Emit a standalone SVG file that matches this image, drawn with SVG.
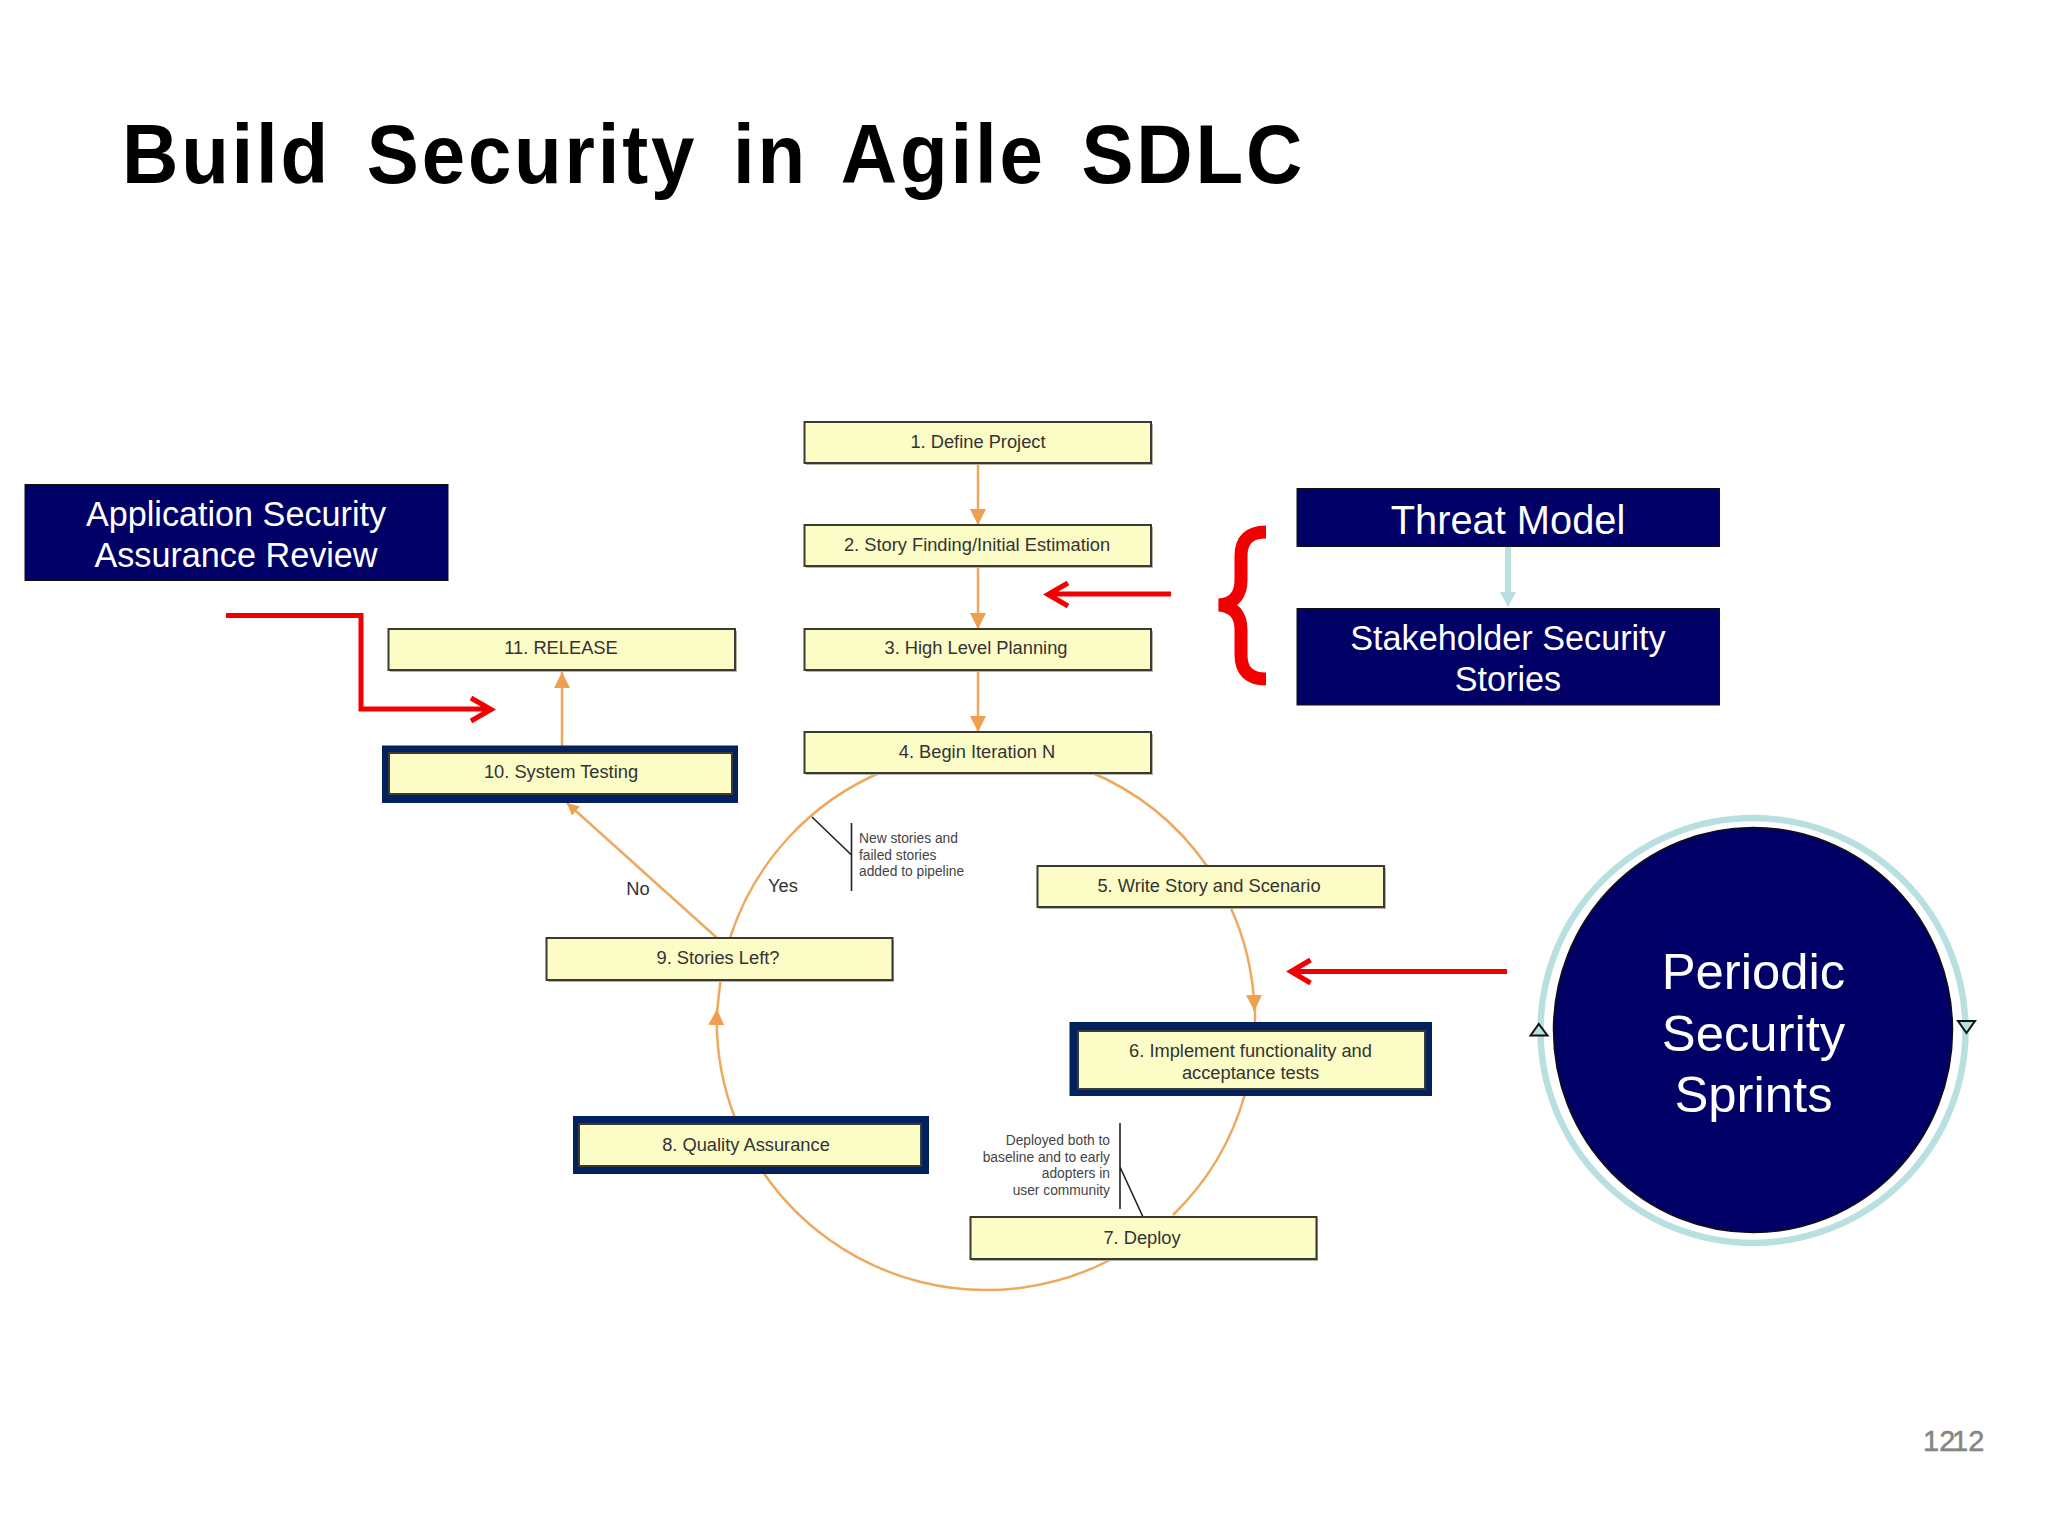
<svg xmlns="http://www.w3.org/2000/svg" width="2048" height="1536" viewBox="0 0 2048 1536">
<style>
text{font-family:"Liberation Sans",Arial,sans-serif}
.box{fill:#fcfcc6;stroke:#3a3a30;stroke-width:2}
.sh{fill:#b5b5a5}
.hl{fill:#04215f}
.t{font-size:18.3px;fill:#333;text-anchor:middle}
.n{font-size:13.8px;fill:#444}
.nr{font-size:13.8px;fill:#444;text-anchor:end}
.navy{fill:#000066;stroke:#111;stroke-width:1}
.w{fill:#fff;text-anchor:middle}
.o{fill:none;stroke:#eea95f;stroke-width:2.5}
.oa{marker-end:url(#oh)}
.r{fill:none;stroke:#f00000;stroke-width:5}
.c{fill:none;stroke:#222;stroke-width:1.6}
.tri{fill:#b9e0e0;stroke:#111;stroke-width:2}
</style>
<defs>
<marker id="oh" markerUnits="userSpaceOnUse" markerWidth="18" markerHeight="18" refX="16" refY="8" orient="auto"><path d="M0 0L16 8L0 16Z" fill="#eea050"/></marker>
<marker id="os" markerUnits="userSpaceOnUse" markerWidth="14" markerHeight="14" refX="12" refY="6" orient="auto"><path d="M0 0L12 6L0 12Z" fill="#eea050"/></marker>
</defs>
<rect width="2048" height="1536" fill="#fff"/>
<text id="title" transform="translate(122 183) scale(.94 1)" font-size="83" font-weight="700" letter-spacing="3" word-spacing="12" fill="#000">Build Security in Agile SDLC</text>

<g id="connectors">
<path class="o oa" d="M978 463V525"/>
<path class="o oa" d="M978 567V629"/>
<path class="o oa" d="M978 670V732"/>
<path class="o" d="M1088 771A270 270 0 0 1 1207 866"/>
<path class="o oa" d="M1230 906A270 270 0 0 1 1254.500 1011"/>
<path class="o" d="M1255 1008V1031"/>
<path class="o" d="M1245 1094A270 270 0 0 1 1173 1215"/>
<path class="o" d="M1110 1260A270 270 0 0 1 763 1172"/>
<path class="o oa" d="M735 1118A270 270 0 0 1 717 1009"/>
<path class="o" d="M720.500 980L717 1012"/>
<path class="o" d="M730 938A270 270 0 0 1 884 771"/>
<path class="o" style="marker-end:url(#os)" d="M717 938L567 803"/>
<path class="o oa" d="M562 746V672"/>
<path class="c" d="M812 817L851.500 855M851.500 823V891"/>
<path class="c" d="M1120 1123V1209M1120 1167L1143 1217"/>
<path d="M1508 546V598" fill="none" stroke="#b9e0e0" stroke-width="6"/>
<path d="M1500 592L1516 592L1508 607Z" fill="#b9e0e0"/>
<path class="r" d="M226 615.500H361V709H490M471 698L491 709.500L471 721"/>
<path class="r" d="M1171 594H1049M1068 583L1048 594.500L1068 606"/>
<path class="r" d="M1507 971.500H1291M1310.500 960L1291 971.500L1310.500 983"/>
</g>

<g id="node1"><rect class="sh" x="806" y="424" width="347" height="41"/><rect class="box" x="804.500" y="422" width="346.500" height="41"/><text class="t" x="978" y="447.500">1. Define Project</text></g>
<g id="node2"><rect class="sh" x="806" y="527" width="347" height="41"/><rect class="box" x="804.500" y="525" width="346.500" height="41"/><text class="t" x="977" y="550.500">2. Story Finding/Initial Estimation</text></g>
<g id="node3"><rect class="sh" x="806" y="631" width="347" height="41"/><rect class="box" x="804.500" y="629" width="346.500" height="41"/><text class="t" x="976" y="654">3. High Level Planning</text></g>
<g id="node4"><rect class="sh" x="806" y="734" width="347" height="41"/><rect class="box" x="804.500" y="732" width="346.500" height="41"/><text class="t" x="977" y="757.500">4. Begin Iteration N</text></g>
<g id="node5"><rect class="sh" x="1039" y="868" width="347" height="41"/><rect class="box" x="1037.500" y="866" width="346.500" height="41"/><text class="t" x="1209" y="891.500">5. Write Story and Scenario</text></g>
<g id="node6"><rect class="hl" x="1069.500" y="1022" width="362.500" height="74"/><rect class="box" x="1078" y="1031" width="347" height="58"/><text class="t" x="1250.500" y="1056.500">6. Implement functionality and</text><text class="t" x="1250.500" y="1078.500">acceptance tests</text></g>
<g id="node7"><rect class="sh" x="972" y="1219" width="346" height="42"/><rect class="box" x="970.500" y="1217" width="346" height="42"/><text class="t" x="1142" y="1243.500">7. Deploy</text></g>
<g id="node8"><rect class="hl" x="573" y="1116" width="356" height="58"/><rect class="box" x="579" y="1124" width="342" height="42"/><text class="t" x="746" y="1150.500">8. Quality Assurance</text></g>
<g id="node9"><rect class="sh" x="548" y="940" width="346" height="42"/><rect class="box" x="546.500" y="938" width="346" height="42"/><text class="t" x="718" y="963.500">9. Stories Left?</text></g>
<g id="node10"><rect class="hl" x="382" y="745.500" width="356" height="57.500"/><rect class="box" x="389" y="753" width="343" height="41"/><text class="t" x="561" y="778">10. System Testing</text></g>
<g id="node11"><rect class="sh" x="390" y="631" width="347" height="41"/><rect class="box" x="388.500" y="629" width="346.500" height="41"/><text class="t" x="561" y="653.500">11. RELEASE</text></g>

<g id="label-no"><text class="t" x="638" y="895">No</text></g>
<g id="label-yes"><text class="t" x="783" y="892">Yes</text></g>
<g id="note-stories"><text class="n" x="859" y="843">New stories and</text><text class="n" x="859" y="860">failed stories</text><text class="n" x="859" y="876">added to pipeline</text></g>
<g id="note-deploy"><text class="nr" x="1110" y="1145">Deployed both to</text><text class="nr" x="1110" y="1162">baseline and to early</text><text class="nr" x="1110" y="1178">adopters in</text><text class="nr" x="1110" y="1195">user community</text></g>

<g id="app-review"><rect class="navy" x="25" y="484.500" width="423" height="96"/><text class="w" font-size="34.200" x="236" y="526">Application Security</text><text class="w" font-size="34.200" x="236" y="567">Assurance Review</text></g>
<g id="threat-model"><rect class="navy" x="1297" y="488.500" width="422.500" height="58"/><text class="w" font-size="39.800" x="1508" y="534">Threat Model</text></g>
<g id="stakeholder"><rect class="navy" x="1297" y="608.500" width="422.500" height="96.500"/><text class="w" font-size="34.200" x="1508" y="650">Stakeholder Security</text><text class="w" font-size="34.200" x="1508" y="691">Stories</text></g>
<path id="brace" d="M1266 532Q1241 532 1241 556V580Q1241 603 1219 605Q1241 607 1241 630V655Q1241 679 1266 679" fill="none" stroke="#f00000" stroke-width="13"/>

<g id="sprints">
<circle cx="1753" cy="1030.500" r="212.500" fill="#fff" stroke="#b9e0e0" stroke-width="6.500"/>
<ellipse cx="1753" cy="1030" rx="199.500" ry="202.500" fill="#000066" stroke="#111" stroke-width="1.500"/>
<path class="tri" d="M1538.700 1024L1530.500 1035.500H1547.500Z"/>
<path class="tri" d="M1958 1021H1975L1966.500 1033Z"/>
<text class="w" font-size="50.800" x="1753.500" y="989">Periodic</text>
<text class="w" font-size="50.800" x="1753.500" y="1051">Security</text>
<text class="w" font-size="50.800" x="1753.500" y="1112">Sprints</text>
</g>
<g id="page-number" fill="#858585" font-size="29" stroke="#858585" stroke-width=".5"><text x="1923" y="1451">12</text><text x="1952" y="1451">12</text></g>
</svg>
